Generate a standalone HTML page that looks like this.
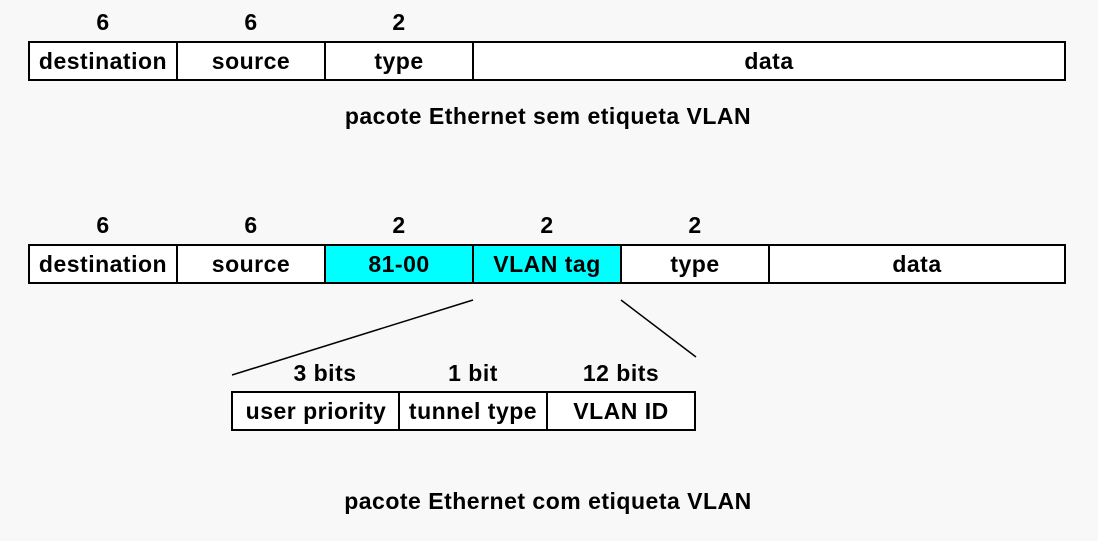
<!DOCTYPE html>
<html><head><style>
body{margin:0;background:#f8f8f8;}
svg{display:block;}
text{font-family:"Liberation Sans",Arial,sans-serif;font-weight:bold;font-size:23px;letter-spacing:0.5px;fill:#000;text-anchor:middle;}
</style></head><body>
<svg width="1098" height="541" viewBox="0 0 1098 541">
<g stroke="#000" stroke-width="2">
<rect x="29" y="42" width="1036" height="38" fill="#fff"/>
<line x1="177" y1="42" x2="177" y2="80"/><line x1="325" y1="42" x2="325" y2="80"/><line x1="473" y1="42" x2="473" y2="80"/>
<rect x="29" y="245" width="1036" height="38" fill="#fff"/>
<rect x="325" y="245" width="296" height="38" fill="#00ffff"/>
<line x1="177" y1="245" x2="177" y2="283"/><line x1="473" y1="245" x2="473" y2="283"/><line x1="769" y1="245" x2="769" y2="283"/>
<rect x="232" y="392" width="463" height="38" fill="#fff"/>
<line x1="399" y1="392" x2="399" y2="430"/><line x1="547" y1="392" x2="547" y2="430"/>
<line x1="473" y1="300" x2="232" y2="375" stroke-width="1.5"/>
<line x1="621" y1="300" x2="696" y2="357" stroke-width="1.5"/>
</g>
<text x="103" y="30">6</text><text x="251" y="30">6</text><text x="399" y="30">2</text>
<text x="103" y="69">destination</text><text x="251" y="69">source</text><text x="399" y="69">type</text><text x="769" y="69">data</text>
<text x="548" y="124">pacote Ethernet sem etiqueta VLAN</text>
<text x="103" y="233">6</text><text x="251" y="233">6</text><text x="399" y="233">2</text><text x="547" y="233">2</text><text x="695" y="233">2</text>
<text x="103" y="272">destination</text><text x="251" y="272">source</text><text x="399" y="272">81-00</text><text x="547" y="272">VLAN tag</text><text x="695" y="272">type</text><text x="917" y="272">data</text>
<text x="325" y="381">3 bits</text><text x="473" y="381">1 bit</text><text x="621" y="381">12 bits</text>
<text x="316" y="419">user priority</text><text x="473" y="419">tunnel type</text><text x="621" y="419">VLAN ID</text>
<text x="548" y="509">pacote Ethernet com etiqueta VLAN</text>
</svg>
</body></html>
